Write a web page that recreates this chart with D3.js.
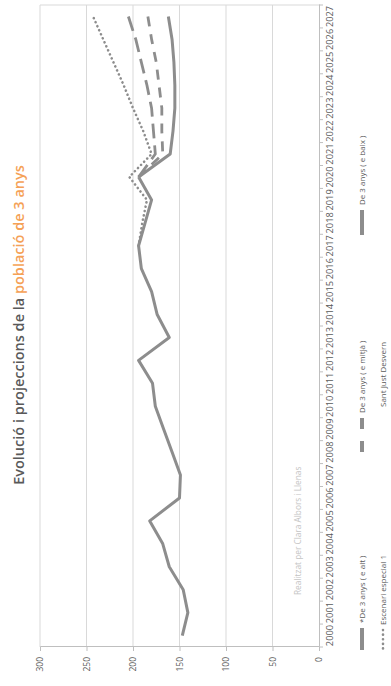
<!DOCTYPE html>
<html>
<head>
<meta charset="utf-8">
<script src="https://cdn.jsdelivr.net/npm/d3@7/dist/d3.min.js"></script>
<style>
  html, body { margin: 0; padding: 0; background: #ffffff; }
  svg { display: block; }
</style>
</head>
<body>
<svg id="chart" width="391" height="686"></svg>
<script>
// Years on the category axis
const years = ["2000","2001","2002","2003","2004","2005","2006","2007","2008","2009",
               "2010","2011","2012","2013","2014","2015","2016","2017","2018","2019",
               "2020","2021","2022","2023","2024","2025","2026","2027"];

// Observed population aged 3 (2000–2020)
const observedYears = years.slice(0, 21);
const observed = [147, 141, 146, 161, 168, 182, 150, 149, 158, 167,
                  176, 179, 194, 161, 174, 180, 191, 194, 187, 180, 194];

// Projections (2020–2027)
const projYears = ["2020","2021","2022","2023","2024","2025","2026","2027"];
const eAlt   = [194, 176, 178, 180, 185, 191, 197, 205];
const eMitja = [194, 168, 169, 169, 172, 175, 180, 184];
const eBaix  = [194, 160, 157, 155, 155, 156, 158, 162];

// Special scenario (2017–2027)
const especialYears = ["2017","2018","2019","2020","2021","2022","2023","2024","2025","2026","2027"];
const especial = [194, 190, 185, 204, 180, 189, 200, 210, 221, 232, 243];

// Value axis ticks
const valueTicks = [0, 50, 100, 150, 200, 250, 300];

// Legend entries
const legendLabels = ["*De 3 anys ( e alt )", "Escenari especial 1", "De 3 anys ( e mitjà )",
                      "Sant Just Desvern", "De 3 anys ( e baix )"];

const titleMain = "Evolució i projeccions de la ";
const titleAccent = "població de 3 anys";
const credit = "Realitzat per Clara Albors i Llenas";

// ---------------------------------------------------------------
const PAGE_W = 391, PAGE_H = 686;
const W = PAGE_H, H = PAGE_W;            // chart laid out landscape, turned a quarter
const plot = { left: 39, right: 681, top: 40, bottom: 319 };

const lineColor = "#8d8d8d";
const gridColor = "#d9d9d9";
const axisColor = "#bfbfbf";
const textColor = "#595959";
const fontFam = "'Open Sans', 'Noto Sans', sans-serif";

const svg = d3.select("#chart");
svg.append("rect").attr("width", PAGE_W).attr("height", PAGE_H).attr("fill", "#fff");

const g = svg.append("g").attr("transform", `translate(0,${PAGE_H}) rotate(-90)`);

const x = d3.scaleBand().domain(years).range([plot.left, plot.right]).paddingInner(0).paddingOuter(0);
const y = d3.scaleLinear().domain([0, 300]).range([plot.bottom, plot.top]);
const cx = yr => x(yr) + x.bandwidth() / 2;

// Gridlines
g.append("g")
  .selectAll("line")
  .data(valueTicks.filter(v => v > 0))
  .join("line")
  .attr("x1", plot.left).attr("x2", plot.right)
  .attr("y1", d => y(d)).attr("y2", d => y(d))
  .attr("stroke", gridColor).attr("stroke-width", 1);

// Right border of the plot area
g.append("line")
  .attr("x1", plot.right).attr("x2", plot.right)
  .attr("y1", plot.top).attr("y2", plot.bottom)
  .attr("stroke", gridColor).attr("stroke-width", 1);

// Value axis
const yAxis = g.append("g")
  .attr("transform", `translate(${plot.left},0)`)
  .call(d3.axisLeft(y).tickValues(valueTicks).tickSize(4).tickPadding(6));
yAxis.select(".domain").attr("stroke", axisColor);
yAxis.selectAll(".tick line").attr("stroke", axisColor);
yAxis.selectAll(".tick text")
  .attr("fill", textColor).style("font-family", fontFam).style("font-size", "8.5px");

// Year axis
const xAxis = g.append("g")
  .attr("transform", `translate(0,${plot.bottom})`)
  .call(d3.axisBottom(x).tickSize(0).tickPadding(7));
xAxis.select(".domain").attr("stroke", axisColor);
xAxis.selectAll(".tick text")
  .attr("fill", textColor).style("font-family", fontFam).style("font-size", "9.3px");
// tick marks between categories
xAxis.append("g")
  .selectAll("line")
  .data(years.concat(["end"]))
  .join("line")
  .attr("x1", (d, i) => plot.left + i * x.bandwidth())
  .attr("x2", (d, i) => plot.left + i * x.bandwidth())
  .attr("y1", 0).attr("y2", 4)
  .attr("stroke", axisColor);

// Series lines
const line = d3.line().x(d => cx(d.year)).y(d => y(d.value));
const zip = (ys, vs) => ys.map((yr, i) => ({ year: yr, value: vs[i] }));

const series = [
  { data: zip(especialYears, especial), dash: "0.1,4.3", width: 2.6, cap: "round" },
  { data: zip(projYears, eAlt),   dash: "15,7", width: 2.8, cap: "butt" },
  { data: zip(projYears, eMitja), dash: "10,8", width: 2.8, cap: "butt" },
  { data: zip(projYears, eBaix),  dash: null,   width: 3,   cap: "butt" },
  { data: zip(observedYears, observed), dash: null, width: 3, cap: "butt" }
];

g.append("g")
  .selectAll("path")
  .data(series)
  .join("path")
  .attr("d", d => line(d.data))
  .attr("fill", "none")
  .attr("stroke", lineColor)
  .attr("stroke-width", d => d.width)
  .attr("stroke-linecap", d => d.cap)
  .attr("stroke-linejoin", "round")
  .attr("stroke-dasharray", d => d.dash);

// Title
const title = g.append("text")
  .attr("x", (plot.left + plot.right) / 2 + 1)
  .attr("y", 24)
  .attr("text-anchor", "middle")
  .style("font-family", fontFam)
  .style("font-size", "14.5px")
  .style("font-weight", 600);
title.append("tspan").attr("fill", "#595959").text(titleMain);
title.append("tspan").attr("fill", "#f5a156").text(titleAccent);

// Credit
g.append("text")
  .attr("x", 91).attr("y", 301)
  .attr("fill", "#c4c4c4")
  .style("font-family", fontFam)
  .style("font-size", "8.3px")
  .text(credit);

// Legend
const legend = [
  { label: legendLabels[0], x: 36,  row: 0, len: 22, dash: null,     w: 4,   cap: "butt" },
  { label: legendLabels[1], x: 36,  row: 1, len: 20, dash: "0.1,4.5", w: 2.6, cap: "round" },
  { label: legendLabels[2], x: 234, row: 0, len: 34, dash: "11,12",  w: 4,   cap: "butt" },
  { label: legendLabels[3], x: 234, row: 1, len: 34, dash: null,     w: 0,   cap: "butt" },
  { label: legendLabels[4], x: 451, row: 0, len: 25, dash: null,     w: 4,   cap: "butt" }
];
const rowY = [362, 383];
const lg = g.append("g").selectAll("g").data(legend).join("g");
lg.append("line")
  .attr("x1", d => d.x + (d.cap === "round" ? 1.5 : 0)).attr("x2", d => d.x + d.len)
  .attr("y1", d => rowY[d.row]).attr("y2", d => rowY[d.row])
  .attr("stroke", lineColor)
  .attr("stroke-width", d => d.w)
  .attr("stroke-linecap", d => d.cap)
  .attr("stroke-dasharray", d => d.dash)
  .attr("opacity", d => d.w ? 1 : 0);
lg.append("text")
  .attr("x", d => d.row === 1 && d.w === 0 ? d.x + 45 : d.x + d.len + 5)
  .attr("y", d => rowY[d.row] + 3)
  .attr("fill", textColor)
  .style("font-family", fontFam)
  .style("font-size", "8px")
  .text(d => d.label);
</script>
</body>
</html>
